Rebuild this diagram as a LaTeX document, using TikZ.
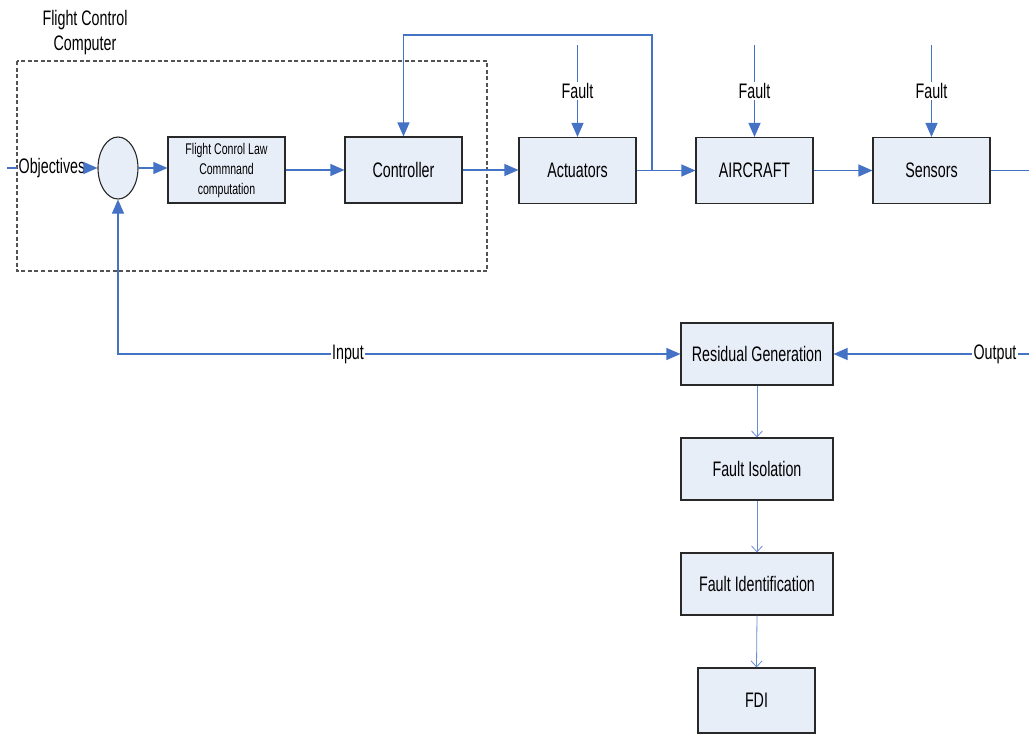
\documentclass[tikz,border=0pt]{standalone}
\usepackage{fontspec}
\setmainfont{Liberation Sans}[FakeStretch=0.68]
\usetikzlibrary{arrows.meta,shapes.geometric}
\definecolor{flow}{RGB}{68,114,196}
\definecolor{boxfill}{RGB}{232,238,248}
\definecolor{boxline}{RGB}{40,40,40}
\tikzset{
  blk/.style={draw=boxline, line width=1.1pt, fill=boxfill, minimum width=117pt, minimum height=66pt, inner sep=0pt, font=\fontsize{21}{25}\selectfont},
  wide/.style={blk, minimum width=152pt, minimum height=62pt},
  lbl/.style={fill=white, inner sep=1pt, font=\fontsize{21}{25}\selectfont},
  flowline/.style={draw=flow, line width=1.1pt},
  arr/.style={flowline, -{Triangle[length=14pt,width=12pt]}},
  barb/.style={draw=flow!80, line width=0.8pt, -{Straight Barb[length=6pt,width=11pt,line width=0.8pt]}},
}
\begin{document}
\begin{tikzpicture}[x=1pt,y=-1pt]
\useasboundingbox (0,0) rectangle (1029,734);

% flight control computer enclosure
\draw[boxline!80, dash pattern=on 4pt off 2.5pt, line width=1.1pt] (17,61) rectangle (487,271);
\node[align=center, font=\fontsize{21}{25}\selectfont] (fcc) at (85,33) {Flight Control\\Computer};

% forward chain
\node[ellipse, draw=boxline, line width=1.1pt, fill=boxfill, minimum width=40pt, minimum height=62pt, inner sep=0pt] (sum) at (118,168) {};
\node[blk, align=center, font=\fontsize{15.5}{20}\selectfont] (fcl) at (226.5,170) {Flight Conrol Law\\Commnand\\computation};
\node[blk] (ctrl) at (403.5,170) {Controller};
\node[blk] (act) at (577.5,170.5) {Actuators};
\node[blk] (air) at (754.5,170.5) {AIRCRAFT};
\node[blk] (sen) at (931.5,170.5) {Sensors};

% diagnosis chain
\node[wide] (res) at (757,354) {Residual Generation};
\node[wide] (iso) at (757,469) {Fault Isolation};
\node[wide] (idf) at (757,584) {Fault Identification};
\node[blk, minimum height=65pt] (fdi) at (756.5,700.5) {FDI};

% objectives input
\coordinate (objin) at (7,168);
\node[font=\fontsize{21}{25}\selectfont, inner sep=1pt] (obj) at (52,168) {Objectives};
\draw[flowline] (objin) -- (obj.west);
\draw[arr] (obj.east) -- (sum.west);

% main signal path
\draw[arr] (sum.east) -- (sum.east -| fcl.west);
\draw[arr] (fcl.east) -- (ctrl.west);
\draw[arr] (ctrl.east) -- (act.west |- ctrl.east);
\draw[arr] (act.east) -- (air.west);
\draw[arr] (air.east) -- (sen.west);
\coordinate (sout) at (1029,170.5);
\draw[flowline] (sen.east) -- (sout);

% actuator feedback to the controller
\coordinate (tap) at (652,170.5);
\coordinate (fbtop) at (652,35);
\draw[arr] (tap) -- (fbtop) -| (ctrl.north);

% fault injections
\foreach \b/\x in {act/577.5, air/754.5, sen/931.5} {
  \coordinate (f\b) at (\x,45);
  \node[lbl] (fl\b) at (\x,91) {Fault};
  \draw[flowline] (f\b) -- (fl\b.north);
  \draw[arr] (fl\b.south) -- (\b.north);
}

% residual generator inputs
\node[lbl] (inl) at (348,354) {Input};
\draw[arr] (inl.west) -| (sum.south);
\draw[arr] (inl.east) -- (res.west);
\coordinate (outin) at (1029,354);
\node[lbl] (outl) at (995,354) {Output};
\draw[flowline] (outin) -- (outl.east);
\draw[arr] (outl.west) -- (res.east);

% diagnosis steps
\draw[barb] (res.south) -- (iso.north);
\draw[barb] (iso.south) -- (idf.north);
\draw[barb] (idf.south) -- (fdi.north);
\end{tikzpicture}
\end{document}
